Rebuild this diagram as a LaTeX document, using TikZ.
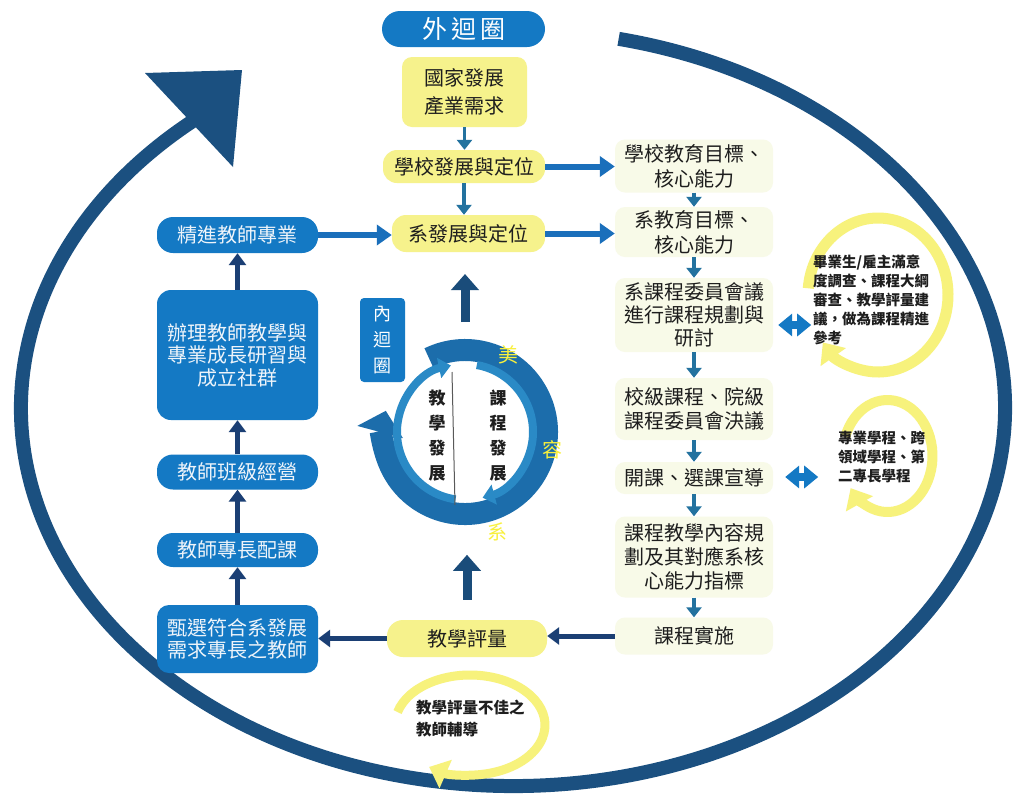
\documentclass[tikz,border=0pt]{standalone}
\usepackage{fontspec}
\setmainfont{Noto Sans CJK TC}
\usetikzlibrary{arrows.meta,calc}
\definecolor{boxblue}{HTML}{1479C4}
\definecolor{ringblue}{HTML}{1C6DAB}
\definecolor{innerblue}{HTML}{2A8AC6}
\definecolor{navy}{HTML}{1B3F74}
\definecolor{navyb}{HTML}{1A4C7A}
\definecolor{ellnavy}{HTML}{1B5080}
\definecolor{arrblue}{HTML}{1A6FBB}
\definecolor{tealb}{HTML}{23729F}
\definecolor{ylw}{HTML}{F6F28C}
\definecolor{loopy}{HTML}{F7F27C}
\definecolor{pale}{HTML}{F8FAE8}
\definecolor{txt}{HTML}{1E1E1E}
\definecolor{lbltext}{HTML}{EEF4FA}
\definecolor{accent}{HTML}{F8F03C}
\tikzset{
 lbox/.style={fill=boxblue, text=lbltext, rounded corners=14pt, minimum width=161pt, inner sep=0pt, align=center, font=\fontsize{20}{22.5}\selectfont},
 ybox/.style={fill=ylw, text=txt, rounded corners=14pt, inner sep=0pt, align=center, font=\fontsize{20}{28}\selectfont},
 pbox/.style={fill=pale, text=txt, rounded corners=10pt, minimum width=158pt, inner sep=0pt, align=center, font=\fontsize{20}{24}\selectfont},
 navyarr/.style={draw=navy, line width=5pt, -{Triangle[length=12pt,width=17pt]}},
 bluearr/.style={draw=arrblue, line width=6pt, -{Triangle[length=15pt,width=20pt]}},
 tealarr/.style={draw=tealb, line width=3.5pt, -{Triangle[length=10pt,width=15pt]}},
 bigup/.style={draw=navyb, line width=9pt, -{Triangle[length=16pt,width=27pt]}},
 dblarr/.style={draw=boxblue, line width=8pt, {Triangle[length=14pt,width=22pt]}-{Triangle[length=14pt,width=22pt]}},
 yloop/.style={draw=loopy, line width=10pt, -{Triangle[length=18pt,width=30pt]}},
 smalltxt/.style={text=txt, align=left, inner sep=0pt, font=\fontsize{14.5}{19}\selectfont\bfseries},
 ringarc/.style={draw=ringblue, line width=22pt, -{Triangle[length=22pt,width=46pt]}},
 innerarc/.style={draw=innerblue, line width=8pt, -{Triangle[length=12pt,width=20pt]}},
 accenttxt/.style={text=accent, inner sep=0pt, font=\fontsize{20}{20}\selectfont},
}
\begin{document}
\begin{tikzpicture}[x=1pt,y=-1pt]
\useasboundingbox (0,0) rectangle (1018,804);
\fill[white] (0,0) rectangle (1018,804);

% outer big loop
\draw[draw=ellnavy, line width=14pt] (513,408) ++(-77.6:492 and 378) arc[start angle=-77.6, end angle=230, x radius=492, y radius=378];
\fill[ellnavy] (145,73) -- (242,70) -- (233,167) -- cycle;

% top column
\node[fill=boxblue, text=white, rounded corners=18pt, minimum width=163pt, minimum height=36pt, font=\fontsize{25}{25}\selectfont, inner sep=0pt] (outer) at (463.5,29) {外\hspace{4pt}迴\hspace{4pt}圈};
\node[ybox, minimum width=125pt, minimum height=70pt, rounded corners=10pt] (nat) at (464.5,92) {國家發展\\產業需求};
\node[ybox, minimum width=162pt, minimum height=33pt] (school) at (464,166.5) {學校發展與定位};
\node[ybox, minimum width=153pt, minimum height=37pt] (dept) at (468.5,233.5) {系發展與定位};

% right column
\node[pbox, minimum height=53pt, font=\fontsize{20}{25}\selectfont] (r1) at (694,166) {學校教育目標、\\核心能力};
\node[pbox, minimum height=50pt, font=\fontsize{20}{25}\selectfont] (r2) at (694,232) {系教育目標、\\核心能力};
\node[pbox, minimum height=74pt, font=\fontsize{20}{23}\selectfont] (r3) at (694,315) {系課程委員會議\\進行課程規劃與\\研討};
\node[pbox, minimum height=62pt] (r4) at (694,409) {校級課程、院級\\課程委員會決議};
\node[pbox, minimum height=32pt] (r5) at (694,478) {開課、選課宣導};
\node[pbox, minimum height=81pt] (r6) at (694,557) {課程教學內容規\\劃及其對應系核\\心能力指標};
\node[pbox, minimum height=37pt] (r7) at (694,636) {課程實施};

% left column
\node[lbox, minimum height=36pt, rounded corners=16pt] (L1) at (237.5,235) {精進教師專業};
\node[lbox, minimum height=130pt] (L2) at (237.5,355) {辦理教師教學與\\專業成長研習與\\成立社群};
\node[lbox, minimum height=35pt, rounded corners=16pt] (L3) at (237.5,472) {教師班級經營};
\node[lbox, minimum height=34pt, rounded corners=16pt] (L4) at (237.5,550) {教師專長配課};
\node[lbox, minimum height=68pt, rounded corners=12pt] (L5) at (237.5,639) {甄選符合系發展\\需求專長之教師};

% evaluation
\node[ybox, minimum width=160pt, minimum height=37pt, rounded corners=16pt] (eval) at (467,638.5) {教學評量};

% inner loop label
\node[fill=boxblue, text=white, rounded corners=4pt, minimum width=45pt, minimum height=84pt, inner sep=0pt, align=center, font=\fontsize{18}{26}\selectfont] (inner) at (382.5,340) {內\\迴\\圈};

% inner ring
\coordinate (cc) at (465,432);
\draw[ringarc] (cc) ++(-116:82) arc[start angle=-116, end angle=195, radius=82];
\draw[innerarc] (cc) ++(-80:68) arc[start angle=-80, end angle=75, radius=68];
\draw[innerarc] (cc) ++(98:68) arc[start angle=98, end angle=258, radius=68];
\coordinate (vl1) at (452,372);
\coordinate (vl2) at (455,505);
\draw[draw=gray!70!black, line width=1pt] (vl1) -- (vl2);
\node[font=\fontsize{17}{25}\selectfont\bfseries, align=center, text=txt, inner sep=0pt] (teach) at (437,436) {教\\學\\發\\展};
\node[font=\fontsize{17}{25}\selectfont\bfseries, align=center, text=txt, inner sep=0pt] (course) at (498,436) {課\\程\\發\\展};
\node[accenttxt] (acc1) at (508,355) {美};
\node[accenttxt] (acc2) at (552,450) {容};
\node[accenttxt] (acc3) at (497,532) {系};

% yellow feedback loops
\draw[yloop, line width=11pt] (878,295) ++(185:70 and 77) arc[start angle=185, end angle=502, x radius=70, y radius=77];
\draw[yloop] (887.5,456) ++(200:45 and 56) arc[start angle=200, end angle=505, x radius=45, y radius=56];
\draw[yloop, line width=9pt] (470,725) ++(195:75 and 50) arc[start angle=195, end angle=483, x radius=75, y radius=50];
\node[smalltxt, anchor=west] (t1) at (813,300) {畢業生/雇主滿意\\度調查、課程大綱\\審查、教學評量建\\議，做為課程精進\\參考};
\node[smalltxt, anchor=west] (t2) at (838,457) {專業學程、跨\\領域學程、第\\二專長學程};
\node[smalltxt, anchor=west, font=\fontsize{15.5}{22}\selectfont\bfseries] (t3) at (416,719) {教學評量不佳之\\教師輔導};

% connectors
\draw[tealarr] (nat.south) -- (nat.south |- school.north);
\draw[tealarr] (school.south) -- (school.south |- dept.north);
\draw[bluearr] (school.east) -- (school.east -| r1.west);
\draw[bluearr] (dept.east) -- (dept.east -| r2.west);
\draw[bluearr] (L1.east) -- (L1.east -| dept.west);
\foreach \a/\b in {r1/r2,r2/r3,r3/r4,r4/r5,r5/r6,r6/r7}
  \draw[tealarr] (\a.south) -- (\b.north);
\draw[navyarr] (r7.west) -- (r7.west -| eval.east);
\draw[navyarr] (eval.west) -- (eval.west -| L5.east);
\draw[navyarr] (L5.north) -- (L4.south);
\draw[navyarr] (L4.north) -- (L3.south);
\draw[navyarr] (L3.north) -- (L2.south);
\draw[navyarr] (L2.north) -- (L1.south);
\coordinate (upA) at ($(eval.north)+(0,-20)$);
\coordinate (upB) at ($(eval.north)+(0,-65)$);
\draw[bigup] (upA) -- (upB);
\coordinate (upC) at (465,322);
\coordinate (upD) at (465,274);
\draw[bigup] (upC) -- (upD);
\coordinate (d1a) at ($(r3.east)+(5,10)$);
\coordinate (d1b) at ($(r3.east)+(38,10)$);
\draw[dblarr] (d1a) -- (d1b);
\coordinate (d2a) at ($(r5.east)+(12,-1)$);
\coordinate (d2b) at ($(r5.east)+(45,-1)$);
\draw[dblarr] (d2a) -- (d2b);
\end{tikzpicture}
\end{document}
